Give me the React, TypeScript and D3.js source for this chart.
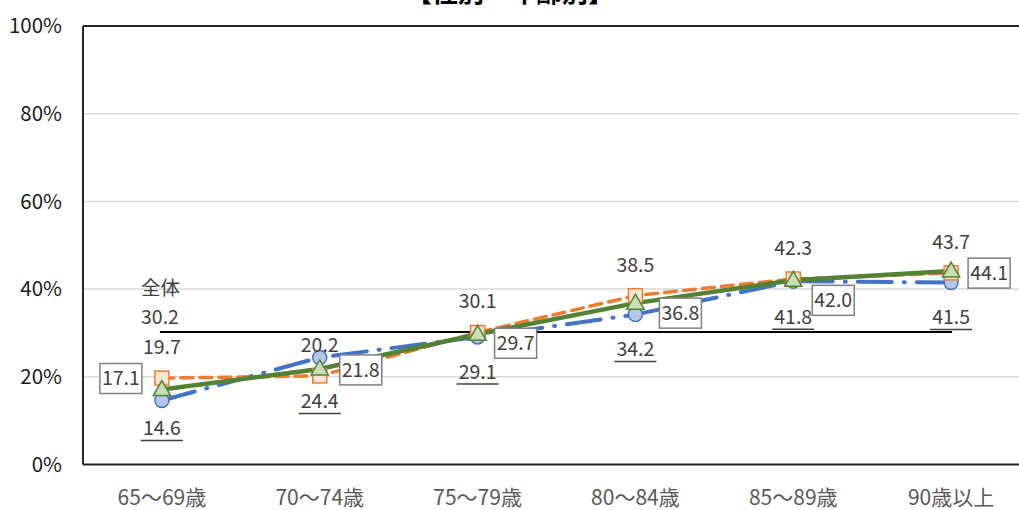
import React from "react";
import * as d3 from "d3";

// Age groups on the x axis
const categories = ["65～69歳", "70～74歳", "75～79歳", "80～84歳", "85～89歳", "90歳以上"];
// Three series (percent)
const seriesBlue = [14.6, 24.4, 29.1, 34.2, 41.8, 41.5];
const seriesOrange = [19.7, 20.2, 30.1, 38.5, 42.3, 43.7];
const seriesGreen = [17.1, 21.8, 29.7, 36.8, 42.0, 44.1];
// Overall reference value
const overallLabel = "全体";
const overallValue = 30.2;
const yTicks = [0, 20, 40, 60, 80, 100];
const title = "【性別・年齢別】";

// Label placement (pixel offsets from each point)
const blueLabelDy = [28, 44, 35, 35, 36, 35];
const orangeLabelDy = -31;
const greenBoxDx = [-41, 41, 38, 45, 40, 38];
const greenBoxDy = [-11, 1, 9, 10, 20, 2];

const W = 1019;
const H = 510;
const font = "'Noto Sans CJK JP', 'Noto Sans', sans-serif";

export default function App() {
  const x = d3.scaleBand<string>().domain(categories).range([83, 1030]).padding(0);
  const cx = (c: string) => (x(c) as number) + x.bandwidth() / 2;
  const y = d3.scaleLinear().domain([0, 100]).range([464.5, 26]);

  const lineGen = (vals: number[]) =>
    d3
      .line<number>()
      .x((_, i) => cx(categories[i]))
      .y((v) => y(v))(vals) as string;

  const tri = d3.symbol().type(d3.symbolTriangle).size(130)() as string;

  const labelStyle = { fontFamily: font, fontSize: 19.5, fill: "#404040" } as const;

  return (
    <svg width={W} height={H} style={{ position: "absolute", left: 0, top: 0 }}>
      <rect width={W} height={H} fill="#fff" />
      {/* title, running off the top edge */}
      <text
        x={510}
        y={2}
        textAnchor="middle"
        fontFamily={font}
        fontSize={26}
        fontWeight="bold"
        fill="#000"
      >
        {title}
      </text>

      {/* gridlines */}
      {yTicks
        .filter((t) => t > 0 && t < 100)
        .map((t) => (
          <line key={t} x1={83} x2={W} y1={y(t)} y2={y(t)} stroke="#d9d9d9" strokeWidth={1.5} />
        ))}
      {/* frame */}
      <line x1={83} x2={W} y1={y(100)} y2={y(100)} stroke="#262626" strokeWidth={2} />
      <line x1={83} x2={W} y1={y(0)} y2={y(0)} stroke="#262626" strokeWidth={2} />
      <line x1={83} x2={83} y1={y(100)} y2={y(0)} stroke="#262626" strokeWidth={2} />

      {/* y tick labels */}
      {yTicks.map((t) => (
        <text
          key={t}
          x={62}
          y={y(t)}
          dy="0.35em"
          textAnchor="end"
          fontFamily={font}
          fontSize={20.5}
          fill="#1a1a1a"
        >
          {t}%
        </text>
      ))}

      {/* x labels */}
      {categories.map((c) => (
        <text
          key={c}
          x={cx(c)}
          y={498}
          dy="0.35em"
          textAnchor="middle"
          fontFamily={font}
          fontSize={21}
          fill="#595959"
        >
          {c}
        </text>
      ))}

      {/* overall reference line */}
      <line
        x1={cx(categories[0]) - 2}
        x2={cx(categories[categories.length - 1]) + 1}
        y1={y(overallValue)}
        y2={y(overallValue)}
        stroke="#000"
        strokeWidth={2}
      />
      <text x={141} y={288} dy="0.35em" {...labelStyle}>
        {overallLabel}
      </text>
      <text x={141} y={317} dy="0.35em" {...labelStyle}>
        {overallValue.toFixed(1)}
      </text>

      {/* lines */}
      <path
        d={lineGen(seriesBlue)}
        fill="none"
        stroke="#4472C4"
        strokeWidth={4}
        strokeDasharray="34 12 1 12"
        strokeLinecap="round"
      />
      <path
        d={lineGen(seriesOrange)}
        fill="none"
        stroke="#ED7D31"
        strokeWidth={3.5}
        strokeDasharray="12 7"
        strokeLinecap="round"
      />
      <path d={lineGen(seriesGreen)} fill="none" stroke="#548235" strokeWidth={4.5} />

      {/* markers */}
      {seriesBlue.map((v, i) => (
        <circle
          key={"b" + i}
          cx={cx(categories[i])}
          cy={y(v)}
          r={7}
          fill="#B4C7E7"
          stroke="#4472C4"
          strokeWidth={1.5}
        />
      ))}
      {seriesOrange.map((v, i) => (
        <rect
          key={"o" + i}
          x={cx(categories[i]) - 7}
          y={y(v) - 7}
          width={14}
          height={14}
          fill="#FBE5D6"
          stroke="#ED7D31"
          strokeWidth={1.5}
        />
      ))}
      {seriesGreen.map((v, i) => (
        <path
          key={"g" + i}
          d={tri}
          transform={`translate(${cx(categories[i])},${y(v) + 1})`}
          fill="#C5E0B4"
          stroke="#548235"
          strokeWidth={1.5}
        />
      ))}

      {/* orange labels (above) */}
      {seriesOrange.map((v, i) => (
        <text
          key={"ol" + i}
          x={cx(categories[i])}
          y={y(v) + orangeLabelDy}
          dy="0.35em"
          textAnchor="middle"
          {...labelStyle}
        >
          {v.toFixed(1)}
        </text>
      ))}

      {/* blue labels (underlined, below) */}
      {seriesBlue.map((v, i) => {
        const ly = y(v) + blueLabelDy[i];
        const px = cx(categories[i]);
        return (
          <g key={"bl" + i}>
            <text x={px} y={ly} dy="0.35em" textAnchor="middle" {...labelStyle}>
              {v.toFixed(1)}
            </text>
            <line x1={px - 21} x2={px + 21} y1={ly + 12} y2={ly + 12} stroke="#404040" strokeWidth={1.5} />
          </g>
        );
      })}

      {/* green labels (boxed) */}
      {seriesGreen.map((v, i) => {
        const bx = cx(categories[i]) + greenBoxDx[i];
        const by = y(v) + greenBoxDy[i];
        return (
          <g key={"gl" + i}>
            <rect x={bx - 21} y={by - 15} width={42} height={30} fill="#fff" stroke="#7f7f7f" strokeWidth={1.5} />
            <text x={bx} y={by} dy="0.35em" textAnchor="middle" {...labelStyle}>
              {v.toFixed(1)}
            </text>
          </g>
        );
      })}
    </svg>
  );
}
